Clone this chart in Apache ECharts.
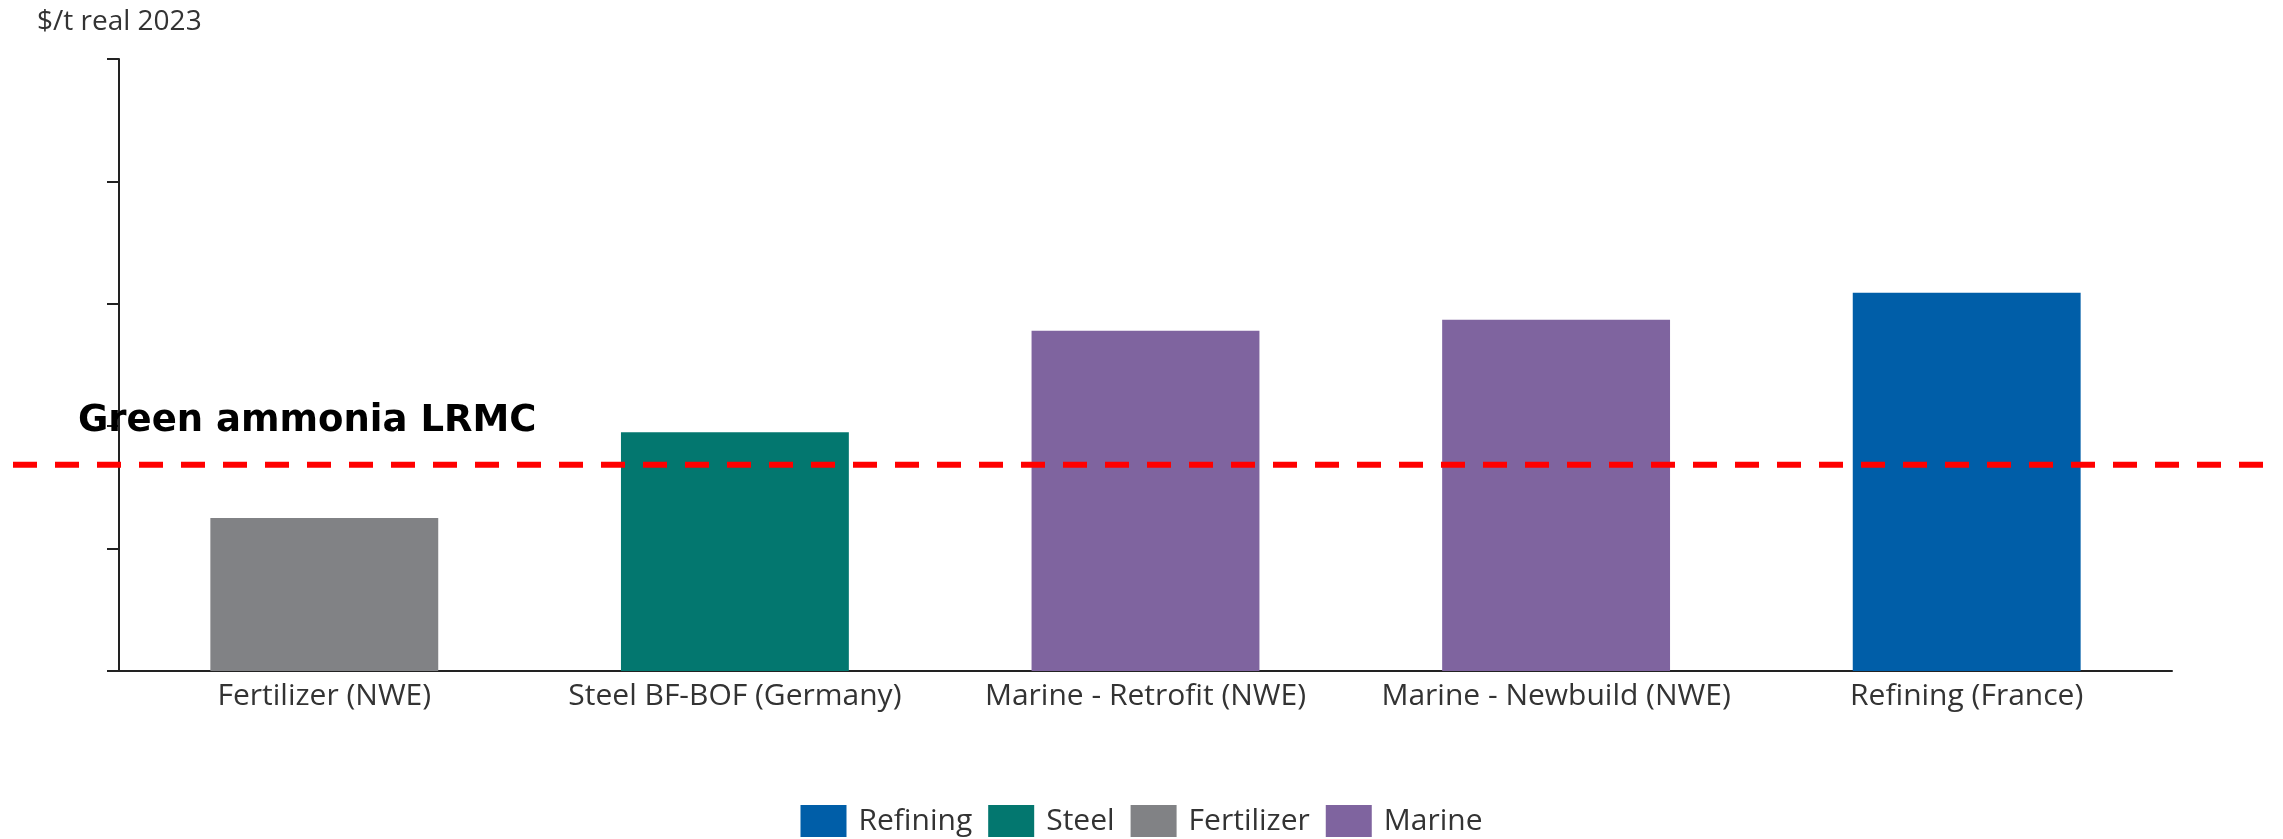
<!DOCTYPE html>
<html>
<head>
<meta charset="utf-8">
<title>Green ammonia LRMC vs sector willingness to pay</title>
<script src="https://cdn.jsdelivr.net/npm/echarts@6/dist/echarts.min.js"></script>
<style>
  html, body { margin: 0; padding: 0; background: #fff; }
  #chart { width: 2283px; height: 839px; }
</style>
</head>
<body>
<div id="chart"></div>
<script>
// Categories along the x axis
const categories = [
  'Fertilizer (NWE)',
  'Steel BF-BOF (Germany)',
  'Marine - Retrofit (NWE)',
  'Marine - Newbuild (NWE)',
  'Refining (France)'
];

// Values per sector ($/t real 2023, unlabelled scale); null where the sector has no bar
const refining   = [null, null, null, null, 309];
const steel      = [null, 195, null, null, null];
const fertilizer = [125, null, null, null, null];
const marine     = [null, null, 278, 287, null];

// Green ammonia long-run marginal cost reference level
const lrmc = 168.5;

// Value axis range and tick step
const yMin = 0, yMax = 500, yStep = 100;

const colors = {
  Refining: '#005EA8',
  Steel: '#03776F',
  Fertilizer: '#818285',
  Marine: '#7F649F'
};

const labelFont = '"Open Sans", "Noto Sans", sans-serif';

function barSeries(name, values) {
  return {
    name: name,
    type: 'bar',
    stack: 'sector',
    xAxisIndex: 0,
    yAxisIndex: 0,
    barWidth: '55.5%',
    itemStyle: { color: colors[name] },
    z: 2,
    data: values
  };
}

const chart = echarts.init(document.getElementById('chart'), null, { renderer: 'canvas' });

chart.setOption({
  animation: false,
  backgroundColor: '#fff',
  title: {
    text: '$/t real 2023',
    left: 32,
    top: 3,
    textStyle: { fontFamily: labelFont, fontSize: 28, fontWeight: 'normal', color: '#333' }
  },
  legend: {
    data: ['Refining', 'Steel', 'Fertilizer', 'Marine'],
    left: 'center',
    top: 800,
    itemWidth: 46,
    itemHeight: 32,
    itemGap: 16,
    icon: 'rect',
    textStyle: { fontFamily: labelFont, fontSize: 30, color: '#333', padding: [0, 0, 0, 7] }
  },
  grid: [
    { left: 119, right: 111, top: 59, bottom: 168 },
    // full-width strip carrying the LRMC reference line on the same vertical scale
    { left: 13, right: 20, top: 59, bottom: 168 }
  ],
  xAxis: [
    {
      type: 'category',
      gridIndex: 0,
      data: categories,
      axisLine: { lineStyle: { color: '#222', width: 2 } },
      axisTick: { show: false },
      axisLabel: { interval: 0, fontFamily: labelFont, fontSize: 30, color: '#333', margin: 10 }
    },
    {
      type: 'value',
      gridIndex: 1,
      min: 0,
      max: 1,
      show: false
    }
  ],
  yAxis: [
    {
      type: 'value',
      gridIndex: 0,
      min: yMin,
      max: yMax,
      interval: yStep,
      axisLine: { show: true, lineStyle: { color: '#222', width: 2 } },
      axisTick: { show: true, length: 12, lineStyle: { color: '#222', width: 2 } },
      axisLabel: { show: false },
      splitLine: { show: false }
    },
    {
      type: 'value',
      gridIndex: 1,
      min: yMin,
      max: yMax,
      show: false
    }
  ],
  series: [
    barSeries('Refining', refining),
    barSeries('Steel', steel),
    barSeries('Fertilizer', fertilizer),
    barSeries('Marine', marine),
    {
      name: 'Green ammonia LRMC',
      type: 'line',
      xAxisIndex: 1,
      yAxisIndex: 1,
      symbol: 'none',
      silent: true,
      z: 5,
      lineStyle: { color: '#FF0000', width: 6, type: [24, 18], dashOffset: 0, cap: 'butt' },
      data: [[0, lrmc], [1, lrmc]]
    }
  ],
  graphic: [
    {
      type: 'text',
      x: 78,
      y: 421,
      z: 10,
      style: {
        text: 'Green ammonia LRMC',
        fontFamily: '"DejaVu Sans", Verdana, sans-serif',
        fontWeight: 'bold',
        fontSize: 37,
        fill: '#000',
        verticalAlign: 'middle'
      }
    }
  ]
});
</script>
</body>
</html>
